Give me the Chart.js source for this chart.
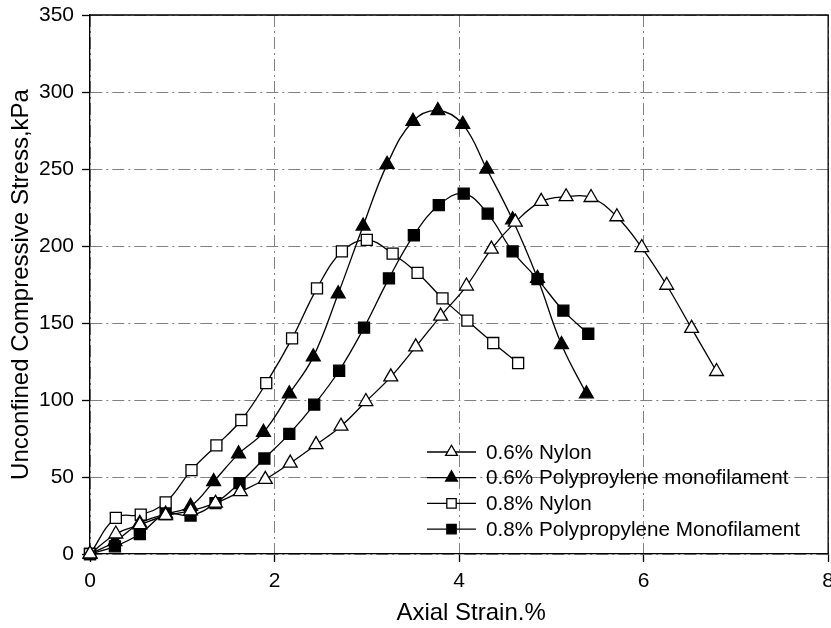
<!DOCTYPE html>
<html lang="en">
<head>
    <meta charset="UTF-8">
    <title>Unconfined Compressive Stress vs Axial Strain</title>
    <script src="https://cdn.jsdelivr.net/npm/chart.js"></script>
    <style>
        html, body { margin: 0; padding: 0; background: #fff; overflow: hidden; }
        #wrap { width: 841px; height: 628px; position: relative; }
    </style>
</head>
<body>
    <div id="wrap">
        <canvas id="stressChart"></canvas>
    </div>

    <script>
        // values
        const strainNylon06 = [0, 0.28, 0.54, 0.82, 1.09, 1.36, 1.63, 1.90, 2.17, 2.45, 2.72, 2.99, 3.26, 3.53, 3.80, 4.08, 4.35, 4.61, 4.89, 5.16, 5.43, 5.71, 5.98, 6.25, 6.52, 6.79];
        const stressNylon06 = [0, 13, 19, 25, 28, 33, 40.5, 48.5, 59, 71, 83, 99, 115, 134.5, 154.5, 174, 198, 215.5, 229, 232, 231.5, 219, 199, 174.5, 146.5, 118.5];

        const strainPP06 = [0, 0.27, 0.54, 0.82, 1.09, 1.34, 1.61, 1.88, 2.16, 2.42, 2.69, 2.96, 3.22, 3.50, 3.77, 4.04, 4.30, 4.58, 4.85, 5.11, 5.38];
        const stressPP06 = [0, 8, 20, 26, 31, 47, 65, 79, 104, 128, 169, 213, 253, 281, 288, 279, 250, 217, 179, 136, 104];

        const strainNylon08 = [0, 0.28, 0.55, 0.82, 1.10, 1.37, 1.64, 1.91, 2.19, 2.46, 2.73, 3.00, 3.28, 3.55, 3.82, 4.09, 4.37, 4.64];
        const stressNylon08 = [0, 23.5, 25.5, 33.5, 54.5, 70.5, 87, 111, 140, 172.5, 196.5, 204, 195, 182.5, 166, 151.5, 137, 124];

        const strainPP08 = [0, 0.27, 0.54, 0.82, 1.09, 1.36, 1.62, 1.89, 2.16, 2.43, 2.70, 2.97, 3.24, 3.51, 3.78, 4.05, 4.31, 4.58, 4.85, 5.13, 5.40];
        const stressPP08 = [0, 5, 13, 26, 25, 33, 46, 62, 78, 97, 119, 147, 179, 207, 226.5, 234, 221, 196.5, 178.5, 158, 143];

        const seriesLabels = ['0.6% Nylon', '0.6% Polyproylene monofilament', '0.8% Nylon', '0.8% Polypropylene Monofilament'];
        const xTicks = [0, 2, 4, 6, 8];
        const yTicks = [0, 50, 100, 150, 200, 250, 300, 350];

        const FONT = '"Liberation Sans", Arial, sans-serif';

        function toPoints(xs, ys) {
            return xs.map((x, i) => ({ x: x, y: ys[i] }));
        }

        function makeSet(label, xs, ys, style, fill) {
            const r = style === 'triangle' ? 8 : 7.8;
            return {
                label: label,
                data: toPoints(xs, ys),
                borderColor: '#000',
                borderWidth: 1.3,
                tension: 0.4,
                pointStyle: style,
                pointRadius: r,
                pointHoverRadius: r,
                pointBackgroundColor: fill,
                pointBorderColor: '#000',
                pointBorderWidth: 1.3,
                clip: false
            };
        }

        // top and right frame lines
        const framePlugin = {
            id: 'frame',
            beforeDatasetsDraw(chart) {
                const { ctx, chartArea: a } = chart;
                ctx.save();
                ctx.strokeStyle = '#000';
                ctx.lineWidth = 1.3;
                ctx.beginPath();
                ctx.moveTo(a.left, a.top);
                ctx.lineTo(a.right, a.top);
                ctx.lineTo(a.right, a.bottom);
                ctx.stroke();
                ctx.restore();
            }
        };

        // legend inside the plot, line + marker + label
        const insideLegend = {
            id: 'insideLegend',
            afterDatasetsDraw(chart) {
                const ctx = chart.ctx;
                const x0 = 427, x1 = 476, rowTop = 452, rowGap = 25.7;
                ctx.save();
                ctx.font = '20.7px ' + FONT;
                ctx.textBaseline = 'middle';
                chart.data.datasets.forEach((ds, i) => {
                    const y = rowTop + i * rowGap;
                    ctx.strokeStyle = '#000';
                    ctx.lineWidth = 1.3;
                    ctx.beginPath();
                    ctx.moveTo(x0, y);
                    ctx.lineTo(x1, y);
                    ctx.stroke();
                    ctx.fillStyle = ds.pointBackgroundColor;
                    Chart.helpers.drawPoint(ctx, { pointStyle: ds.pointStyle, radius: ds.pointRadius * 0.85, rotation: 0, borderWidth: 1.3 }, (x0 + x1) / 2, y);
                    ctx.fillStyle = '#000';
                    ctx.fillText(ds.label, 486, y + 1);
                });
                ctx.restore();
            }
        };

        const gridOpts = {
            color: '#808080',
            lineWidth: 1,
            tickColor: '#000',
            tickLength: 8,
            tickWidth: 1.3,
            tickBorderDash: []
        };

        new Chart(document.getElementById('stressChart'), {
            type: 'line',
            data: {
                datasets: [
                    makeSet(seriesLabels[0], strainNylon06, stressNylon06, 'triangle', '#fff'),
                    makeSet(seriesLabels[1], strainPP06, stressPP06, 'triangle', '#000'),
                    makeSet(seriesLabels[2], strainNylon08, stressNylon08, 'rect', '#fff'),
                    makeSet(seriesLabels[3], strainPP08, stressPP08, 'rect', '#000')
                ]
            },
            options: {
                responsive: true,
                maintainAspectRatio: false,
                animation: false,
                layout: { padding: { top: 15, left: 0, right: 0, bottom: 0 } },
                plugins: {
                    legend: { display: false },
                    tooltip: { enabled: false }
                },
                scales: {
                    x: {
                        type: 'linear',
                        min: 0,
                        max: 8,
                        afterBuildTicks: (scale) => { scale.ticks = xTicks.map(v => ({ value: v })); },
                        afterFit: (scale) => { scale.height = 74; },
                        grid: gridOpts,
                        border: { color: '#000', width: 1.3, dash: [12, 4, 2, 4] },
                        ticks: { color: '#000', padding: 7, maxRotation: 0, font: { family: FONT, size: 21 } },
                        title: {
                            display: true,
                            text: '\u2003Axial Strain.%',
                            color: '#000',
                            padding: { top: 0, bottom: 0 },
                            font: { family: FONT, size: 24 }
                        }
                    },
                    y: {
                        min: 0,
                        max: 350,
                        afterBuildTicks: (scale) => { scale.ticks = yTicks.map(v => ({ value: v })); },
                        afterFit: (scale) => { scale.width = 90; },
                        grid: gridOpts,
                        border: { color: '#000', width: 1.3, dash: [12, 4, 2, 4] },
                        ticks: { color: '#000', padding: 8, font: { family: FONT, size: 21, lineHeight: 0.6 } },
                        title: {
                            display: true,
                            text: 'Unconfined Compressive Stress,kPa',
                            color: '#000',
                            padding: { top: 7, bottom: 0 },
                            font: { family: FONT, size: 24 }
                        }
                    }
                }
            },
            plugins: [framePlugin, insideLegend]
        });
    </script>
</body>
</html>
